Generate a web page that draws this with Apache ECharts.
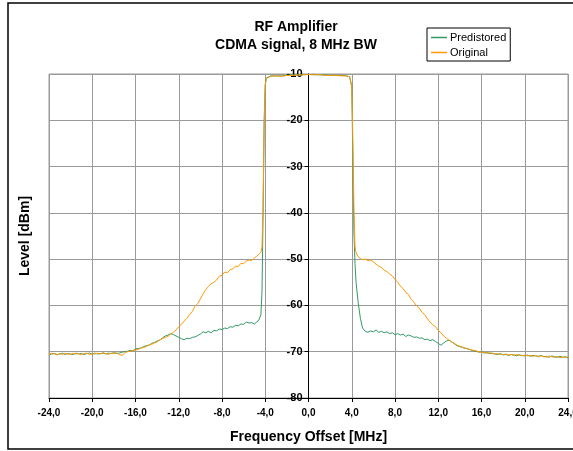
<!DOCTYPE html>
<html>
<head>
<meta charset="utf-8">
<script src="https://cdn.jsdelivr.net/npm/echarts@6/dist/echarts.min.js"></script>
<style>
  html, body { margin: 0; padding: 0; background: #fff; }
  #chart { width: 573px; height: 451px; }
</style>
</head>
<body>
<div id="chart"></div>
<script>
const FONT = '"Liberation Sans", Arial, sans-serif';

// frequency offset in MHz (denser around the band edges)
const freqMHz = [
  -24, -23.75, -23.5, -23.25, -23, -22.75, -22.5, -22.25, -22, -21.75, -21.5, -21.25,
  -21, -20.75, -20.5, -20.25, -20, -19.75, -19.5, -19.25, -19, -18.75, -18.5, -18.25,
  -18, -17.75, -17.5, -17.25, -17, -16.75, -16.5, -16.25, -16, -15.75, -15.5, -15.25,
  -15, -14.75, -14.5, -14.25, -14, -13.75, -13.5, -13.25, -13, -12.75, -12.5, -12.25,
  -12, -11.75, -11.5, -11.25, -11, -10.75, -10.5, -10.25, -10, -9.75, -9.5, -9.25,
  -9, -8.75, -8.5, -8.25, -8, -7.75, -7.5, -7.25, -7, -6.75, -6.5, -6.25,
  -6, -5.75, -5.5, -5.25, -5,
  -4.8, -4.6, -4.4, -4.3, -4.2, -4.1, -4, -3.9, -3.8, -3.5, -3, -2.5, -2, -1.5, -1, -0.5,
  0, 0.5, 1, 1.5, 2, 2.5, 3, 3.5, 3.8, 3.9, 4, 4.1, 4.2, 4.3, 4.4, 4.6, 4.8,
  5, 5.25, 5.5, 5.75, 6, 6.25, 6.5, 6.75, 7, 7.25, 7.5, 7.75,
  8, 8.25, 8.5, 8.75, 9, 9.25, 9.5, 9.75, 10, 10.25, 10.5, 10.75,
  11, 11.25, 11.5, 11.75, 12, 12.25, 12.5, 12.75, 13, 13.25, 13.5, 13.75,
  14, 14.25, 14.5, 14.75, 15, 15.25, 15.5, 15.75, 16, 16.25, 16.5, 16.75,
  17, 17.25, 17.5, 17.75, 18, 18.25, 18.5, 18.75, 19, 19.25, 19.5, 19.75,
  20, 20.25, 20.5, 20.75, 21, 21.25, 21.5, 21.75, 22, 22.25, 22.5, 22.75,
  23, 23.25, 23.5, 23.75, 24
];

const predistoredDbm = [
  -70.7, -70.5, -70.4, -70.6, -70.5, -70.3, -70.6, -70.4, -70.5, -70.6, -70.3, -70.5,
  -70.4, -70.6, -70.4, -70.3, -70.5, -70.3, -70.5, -70.4, -70.3, -70.5, -70.3, -70.4,
  -70.2, -70.4, -70.3, -70.1, -70.0, -69.9, -69.7, -69.8, -69.4, -69.3, -69.2, -68.9,
  -68.7, -68.6, -68.2, -68.0, -67.7, -67.5, -67.0, -66.6, -66.4, -66.1, -66.3, -66.6,
  -66.9, -67.2, -67.4, -67.1, -67.2, -66.9, -66.8, -66.5, -66.2, -65.7, -65.9, -65.6,
  -65.9, -65.4, -65.5, -65.1, -65.2, -64.9, -65.0, -64.6, -64.7, -64.3, -64.4, -64.0,
  -64.1, -63.6, -63.8, -63.7, -64.0,
  -63.6, -63.2, -62.0, -57, -40, -20, -12.2, -10.9, -10.6, -10.4, -10.4, -10.4, -10.3, -10.2, -10.2, -10.1,
  -10.1, -10.1, -10.2, -10.2, -10.3, -10.3, -10.3, -10.4, -10.6, -10.9, -12.6, -28, -44, -51, -55, -59.5, -62.8,
  -64.9, -65.6, -65.8, -65.5, -65.7, -65.3, -65.8, -65.6, -65.9, -65.7, -66.1, -65.9,
  -66.3, -66.1, -66.4, -66.2, -66.7, -66.4, -66.6, -66.9, -66.8, -67.1, -67.0, -67.4,
  -67.3, -67.6, -67.4, -67.8, -68.2, -68.6, -68.1, -67.7, -67.5, -67.9, -68.3, -68.7,
  -68.9, -69.1, -69.3, -69.4, -69.6, -69.8, -69.9, -70.1, -70.0, -70.3, -70.2, -70.4,
  -70.3, -70.5, -70.6, -70.4, -70.7, -70.6, -70.8, -70.6, -70.7, -70.9, -70.7, -70.8,
  -70.9, -70.7, -71.0, -70.8, -70.9, -71.0, -70.8, -71.1, -71.0, -71.2, -70.9, -71.1,
  -71.2, -71.0, -71.2, -71.1, -71.3
];

const originalDbm = [
  -70.6, -70.3, -70.5, -70.7, -70.4, -70.6, -70.3, -70.5, -70.6, -70.3, -70.5, -70.4,
  -70.7, -70.4, -70.3, -70.6, -70.4, -70.5, -70.3, -70.5, -70.2, -70.4, -70.6, -70.3,
  -70.4, -70.2, -70.6, -70.8, -70.3, -70.0, -69.9, -69.8, -69.6, -69.5, -69.2, -69.1,
  -68.9, -68.5, -68.4, -68.1, -67.9, -67.4, -67.2, -66.9, -66.7, -66.2, -65.8, -65.3,
  -64.6, -64.1, -63.4, -62.8, -62.0, -61.3, -60.2, -59.6, -58.6, -57.5, -56.6, -55.9,
  -55.3, -55.0, -54.5, -53.7, -53.5, -52.8, -52.9, -52.3, -52.1, -51.5, -51.6, -50.9,
  -51.0, -50.4, -50.2, -50.3, -49.7,
  -49.4, -49.0, -48.5, -47.3, -38, -21, -12.4, -11.0, -10.7, -10.5, -10.4, -10.5, -10.3, -10.3, -10.2, -10.2,
  -10.1, -10.2, -10.1, -10.3, -10.3, -10.3, -10.4, -10.4, -10.6, -11.0, -12.8, -24, -39, -47.2, -48.6, -49.5, -49.9,
  -50.1, -50.0, -50.3, -50.2, -50.6, -51.1, -51.5, -51.8, -52.4, -52.7, -53.2, -53.6,
  -54.4, -55.0, -55.8, -56.4, -57.2, -57.6, -58.7, -59.3, -60.1, -60.6, -61.5, -62.0,
  -62.9, -63.6, -64.2, -64.6, -65.4, -65.9, -66.6, -67.1, -67.5, -67.9, -68.2, -68.6,
  -68.8, -69.0, -69.2, -69.4, -69.6, -69.7, -69.8, -70.0, -70.1, -70.2, -70.3, -70.2,
  -70.4, -70.5, -70.4, -70.6, -70.6, -70.5, -70.7, -70.6, -70.8, -70.6, -70.7, -70.9,
  -70.7, -70.9, -70.8, -71.0, -70.8, -71.1, -70.9, -71.0, -71.2, -70.9, -71.1, -71.2,
  -71.0, -71.3, -71.1, -71.3, -71.1
];

const titleLines = ['RF Amplifier', 'CDMA signal, 8 MHz BW'];
const seriesNames = ['Predistored', 'Original'];

const chart = echarts.init(document.getElementById('chart'), null, { renderer: 'canvas' });

const pairs = (ys) => freqMHz.map((x, i) => [x, ys[i]]);

// plot area: 49 .. 568 px, so 0 MHz sits 259.5 px right of the left edge
const gridLeft = 49, gridRight = 5;
const zeroOffset = (573 - gridLeft - gridRight) / 2;

const option = {
  animation: false,
  textStyle: { fontFamily: FONT },
  graphic: [
    {
      type: 'rect',
      shape: { x: 8, y: 3, width: 580, height: 446 },
      style: { fill: null, stroke: '#000', lineWidth: 1.5 },
      silent: true
    },
    {
      type: 'text', x: 296, y: 27,
      style: { text: titleLines[0], font: 'bold 14px ' + FONT, fill: '#000', align: 'center', verticalAlign: 'middle' }
    },
    {
      type: 'text', x: 296, y: 45,
      style: { text: titleLines[1], font: 'bold 14px ' + FONT, fill: '#000', align: 'center', verticalAlign: 'middle' }
    },
    {
      type: 'text', x: 25, y: 236, rotation: Math.PI / 2,
      style: { text: 'Level [dBm]', font: 'bold 14px ' + FONT, fill: '#000', align: 'center', verticalAlign: 'middle' }
    }
  ],
  legend: {
    data: seriesNames,
    orient: 'vertical',
    left: 427,
    top: 28,
    padding: [2, 4, 1, 4],
    itemGap: 0,
    itemWidth: 16,
    itemHeight: 1.5,
    icon: 'rect',
    borderColor: '#000',
    borderWidth: 1,
    textStyle: { fontSize: 11, lineHeight: 15, color: '#000', fontFamily: FONT, padding: [0, 0, 0, -2] }
  },
  grid: {
    left: gridLeft, right: gridRight, top: 74, bottom: 53,
    outerBoundsMode: 'none',
    show: true, borderColor: '#9a9a9a', borderWidth: 1
  },
  xAxis: {
    type: 'value',
    min: -24, max: 24, interval: 4,
    name: 'Frequency Offset [MHz]',
    nameLocation: 'middle',
    nameGap: 32,
    nameTextStyle: { fontSize: 14, fontWeight: 'bold', color: '#000', fontFamily: FONT },
    axisLine: { onZero: false, lineStyle: { color: '#000', width: 1 } },
    axisTick: { show: true, length: 4, lineStyle: { color: '#000' } },
    axisLabel: {
      margin: 10, fontSize: 10, fontWeight: 'bold', color: '#000', fontFamily: FONT,
      formatter: (v) => v.toFixed(1).replace('.', ',')
    },
    splitLine: { show: true, lineStyle: { color: '#9a9a9a', width: 1 } }
  },
  yAxis: {
    type: 'value',
    min: -80, max: -10, interval: 10,
    offset: -zeroOffset,
    axisLine: { show: true, onZero: false, lineStyle: { color: '#000', width: 1 } },
    axisTick: { show: true, length: 4, lineStyle: { color: '#000' } },
    axisLabel: { margin: 6, fontSize: 11, fontWeight: 'bold', color: '#000', fontFamily: FONT },
    splitLine: { show: true, lineStyle: { color: '#9a9a9a', width: 1 } }
  },
  series: [
    {
      name: seriesNames[0],
      type: 'line',
      data: pairs(predistoredDbm),
      showSymbol: false,
      color: '#339966',
      lineStyle: { width: 1, color: '#339966' },
      z: 2
    },
    {
      name: seriesNames[1],
      type: 'line',
      data: pairs(originalDbm),
      showSymbol: false,
      color: '#ff9900',
      lineStyle: { width: 1, color: '#ff9900' },
      z: 3
    }
  ]
};

chart.setOption(option);
</script>
</body>
</html>
